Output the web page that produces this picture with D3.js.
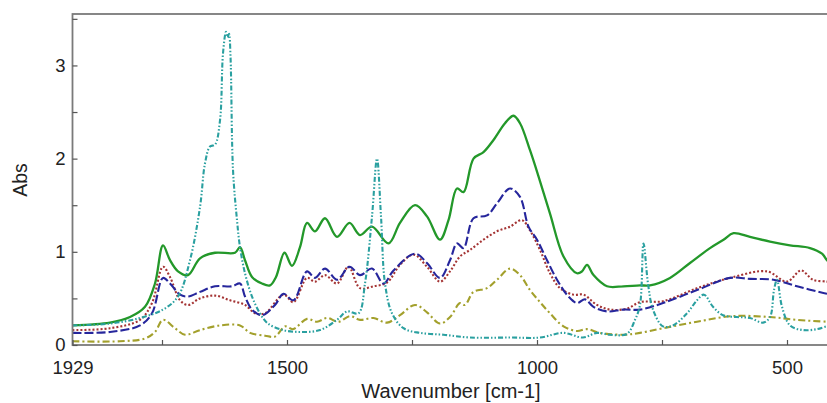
<!DOCTYPE html>
<html>
<head>
<meta charset="utf-8">
<script src="https://cdn.jsdelivr.net/npm/d3@7"></script>
<style>
  html, body { margin: 0; padding: 0; background: #fff; }
  svg { display: block; font-family: "Liberation Sans", Arial, sans-serif; }
</style>
</head>
<body>
<div id="chart"></div>
<script>
(function(d3, undefined) {
  'use strict';

  // spectra: [wavenumber cm-1, absorbance]
  var
    greenSeries = [
      [1929, 0.21], [1854, 0.24], [1814, 0.30], [1784, 0.41], [1764, 0.66], [1748, 1.07],
      [1734, 0.91], [1718, 0.79], [1698, 0.75], [1674, 0.93], [1644, 0.99], [1604, 0.99],
      [1594, 1.05], [1584, 0.91], [1570, 0.73], [1550, 0.66], [1534, 0.64], [1522, 0.73],
      [1505, 0.99], [1490, 0.85], [1474, 1.05], [1460, 1.31], [1444, 1.22], [1424, 1.36],
      [1400, 1.16], [1375, 1.31], [1354, 1.18], [1330, 1.27], [1297, 1.09], [1274, 1.31],
      [1244, 1.50], [1220, 1.38], [1194, 1.13], [1177, 1.34], [1160, 1.68], [1147, 1.64],
      [1127, 2.00], [1107, 2.07], [1087, 2.20], [1064, 2.38], [1047, 2.46], [1034, 2.38],
      [1014, 2.09], [997, 1.81], [974, 1.41], [947, 0.95], [920, 0.77], [910, 0.79],
      [900, 0.86], [887, 0.75], [860, 0.63], [827, 0.63], [794, 0.64], [774, 0.64],
      [734, 0.72], [694, 0.88], [654, 1.04], [627, 1.13], [607, 1.20], [574, 1.16],
      [534, 1.11], [494, 1.07], [454, 1.04], [430, 0.98], [420, 0.91], [410, 0.86]
    ],

    blueSeries = [
      [1929, 0.13], [1854, 0.14], [1794, 0.21], [1770, 0.34], [1748, 0.72], [1734, 0.66],
      [1714, 0.54], [1698, 0.52], [1674, 0.57], [1644, 0.63], [1610, 0.63], [1594, 0.66],
      [1584, 0.52], [1570, 0.38], [1550, 0.32], [1524, 0.43], [1507, 0.55], [1487, 0.48],
      [1460, 0.79], [1444, 0.72], [1424, 0.82], [1400, 0.70], [1375, 0.84], [1354, 0.75],
      [1330, 0.82], [1307, 0.66], [1287, 0.80], [1244, 0.98], [1220, 0.88], [1194, 0.72],
      [1174, 0.91], [1160, 1.09], [1147, 1.04], [1127, 1.36], [1100, 1.39], [1080, 1.52],
      [1054, 1.68], [1034, 1.59], [1017, 1.27], [1000, 1.13], [980, 0.91], [960, 0.70],
      [937, 0.52], [920, 0.45], [904, 0.49], [887, 0.41], [860, 0.36], [827, 0.38],
      [794, 0.38], [748, 0.45], [680, 0.59], [614, 0.72], [574, 0.71], [527, 0.70],
      [480, 0.63], [420, 0.55], [410, 0.54]
    ],

    redSeries = [
      [1929, 0.16], [1854, 0.18], [1794, 0.27], [1770, 0.45], [1748, 0.84], [1734, 0.73],
      [1714, 0.48], [1698, 0.43], [1674, 0.50], [1644, 0.53], [1614, 0.48], [1584, 0.43],
      [1564, 0.34], [1544, 0.34], [1507, 0.54], [1487, 0.46], [1460, 0.72], [1444, 0.68],
      [1424, 0.75], [1400, 0.66], [1377, 0.84], [1354, 0.61], [1327, 0.63], [1300, 0.67],
      [1274, 0.86], [1247, 0.97], [1220, 0.84], [1194, 0.68], [1174, 0.79], [1154, 0.95],
      [1134, 1.02], [1107, 1.13], [1080, 1.22], [1054, 1.27], [1030, 1.34], [1014, 1.23],
      [994, 1.02], [974, 0.77], [954, 0.61], [927, 0.54], [907, 0.54], [880, 0.43],
      [854, 0.38], [820, 0.39], [794, 0.46], [748, 0.47], [680, 0.61], [614, 0.72],
      [540, 0.79], [500, 0.68], [472, 0.80], [448, 0.70], [420, 0.68], [410, 0.67]
    ],

    oliveSeries = [
      [1929, 0.04], [1834, 0.04], [1784, 0.07], [1764, 0.14], [1748, 0.27], [1724, 0.18],
      [1704, 0.11], [1674, 0.16], [1634, 0.21], [1594, 0.21], [1574, 0.13], [1544, 0.10],
      [1524, 0.09], [1504, 0.20], [1488, 0.17], [1460, 0.28], [1440, 0.25], [1420, 0.29],
      [1397, 0.25], [1374, 0.31], [1354, 0.27], [1327, 0.29], [1300, 0.24], [1274, 0.32],
      [1244, 0.43], [1220, 0.35], [1194, 0.23], [1174, 0.30], [1154, 0.45], [1144, 0.43],
      [1127, 0.57], [1100, 0.61], [1080, 0.70], [1054, 0.82], [1034, 0.75], [1014, 0.59],
      [994, 0.46], [974, 0.34], [947, 0.20], [920, 0.15], [900, 0.17], [874, 0.13],
      [827, 0.11], [794, 0.13], [748, 0.18], [680, 0.25], [608, 0.31], [534, 0.30],
      [480, 0.27], [420, 0.25], [410, 0.25]
    ],

    tealSeries = [
      [1929, 0.21], [1854, 0.23], [1794, 0.29], [1748, 0.38], [1718, 0.52], [1694, 0.91],
      [1674, 1.48], [1664, 1.95], [1654, 2.13], [1644, 2.15], [1634, 2.41], [1628, 3.13],
      [1622, 3.36], [1619, 3.30], [1616, 3.34], [1613, 3.10], [1608, 1.88], [1600, 1.34],
      [1594, 1.05], [1584, 0.77], [1570, 0.52], [1554, 0.34], [1538, 0.23], [1508, 0.16],
      [1474, 0.14], [1434, 0.16], [1400, 0.27], [1380, 0.36], [1357, 0.34], [1344, 0.66],
      [1330, 1.38], [1320, 2.00], [1312, 1.38], [1304, 0.66], [1290, 0.34], [1267, 0.18],
      [1234, 0.13], [1187, 0.11], [1134, 0.08], [1054, 0.08], [994, 0.08], [947, 0.13],
      [908, 0.08], [880, 0.13], [854, 0.11], [820, 0.12], [804, 0.27], [794, 0.43],
      [787, 1.09], [778, 0.66], [768, 0.38], [748, 0.20], [728, 0.21], [700, 0.34],
      [680, 0.48], [666, 0.54], [648, 0.41], [628, 0.32], [600, 0.30], [574, 0.29],
      [548, 0.24], [534, 0.30], [526, 0.59], [520, 0.70], [510, 0.41], [494, 0.21],
      [468, 0.16], [440, 0.17], [420, 0.20], [410, 0.20]
    ],

    xTicks = [1929, 1750, 1500, 1250, 1000, 750, 500],
    xTickLabels = ['1929', '', '1500', '', '1000', '', '500'],
    yTicks = [0, 0.5, 1, 1.5, 2, 2.5, 3, 3.5],
    yTickLabels = ['0', '', '1', '', '2', '', '3', ''],

    WIDTH = 827,
    HEIGHT = 403,
    LEFT = 72.5,
    TOP = 14,
    BOTTOM = 345,
    RIGHT = 837,

    STYLES = [
      {data: greenSeries, color: '#23982a', dash: null, width: 2.3},
      {data: redSeries, color: '#a43434', dash: '2,2', width: 2.1},
      {data: blueSeries, color: '#26269c', dash: '9,3', width: 2.1},
      {data: oliveSeries, color: '#a3a02c', dash: '7,3,2,3', width: 2.1},
      {data: tealSeries, color: '#2aa0a0', dash: '5,2,1.5,2,1.5,2', width: 2.1}
    ];

  var
    svg = d3.select('#chart')
            .append('svg')
            .attr('width', WIDTH)
            .attr('height', HEIGHT),

    x = d3.scaleLinear()
          .domain([1929, 400])
          .range([LEFT, LEFT + 1529 * 0.5]),

    y = d3.scaleLinear()
          .domain([0, 3.552])
          .range([BOTTOM, TOP]),

    line = d3.line()
             .x(function(d) { return x(d[0]); })
             .y(function(d) { return y(d[1]); })
             .curve(d3.curveCatmullRom.alpha(0.5));

  svg.append('clipPath')
     .attr('id', 'plot-clip')
     .append('rect')
     .attr('x', LEFT)
     .attr('y', TOP)
     .attr('width', RIGHT - LEFT)
     .attr('height', BOTTOM - TOP);

  svg.append('g')
     .attr('clip-path', 'url(#plot-clip)')
     .selectAll('path')
     .data(STYLES)
     .enter()
     .append('path')
     .attr('fill', 'none')
     .attr('stroke', function(d) { return d.color; })
     .attr('stroke-width', function(d) { return d.width; })
     .attr('stroke-dasharray', function(d) { return d.dash; })
     .attr('stroke-linejoin', 'round')
     .attr('d', function(d) { return line(d.data); });

  // frame
  svg.append('rect')
     .attr('x', LEFT)
     .attr('y', TOP)
     .attr('width', RIGHT - LEFT)
     .attr('height', BOTTOM - TOP)
     .attr('fill', 'none')
     .attr('stroke', '#7a7a7a')
     .attr('stroke-width', 1.8);

  var xAxis = svg.append('g')
     .attr('transform', 'translate(0,' + BOTTOM + ')')
     .call(d3.axisBottom(x)
             .tickValues(xTicks)
             .tickSizeInner(-5)
             .tickSizeOuter(0)
             .tickPadding(16)
             .tickFormat(function(d, i) { return xTickLabels[i]; }));

  var yAxis = svg.append('g')
     .attr('transform', 'translate(' + LEFT + ',0)')
     .call(d3.axisLeft(y)
             .tickValues(yTicks)
             .tickSizeInner(-5)
             .tickSizeOuter(0)
             .tickPadding(7)
             .tickFormat(function(d, i) { return yTickLabels[i]; }));

  [xAxis, yAxis].forEach(function(axis) {
    axis.select('.domain').remove();
    axis.selectAll('.tick line')
        .attr('stroke', '#555')
        .attr('stroke-width', 1.2);
    axis.selectAll('.tick text')
        .attr('fill', '#222')
        .style('font-size', '18.5px')
        .style('font-family', '"Liberation Sans", Arial, sans-serif');
  });

  svg.append('text')
     .attr('x', 451)
     .attr('y', 398)
     .attr('text-anchor', 'middle')
     .attr('fill', '#222')
     .style('font-size', '20px')
     .text('Wavenumber [cm-1]');

  svg.append('text')
     .attr('transform', 'translate(27,180) rotate(-90)')
     .attr('text-anchor', 'middle')
     .attr('fill', '#222')
     .style('font-size', '19.5px')
     .text('Abs');
})(d3);
</script>
</body>
</html>
